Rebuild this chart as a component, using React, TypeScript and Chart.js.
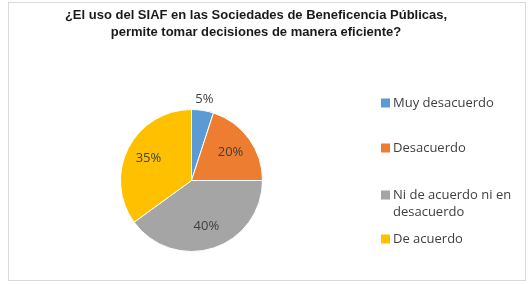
import React, { useEffect, useRef } from "react";
import { Chart, registerables } from "chart.js";

Chart.register(...registerables);

const titleLines = [
  "¿El uso del SIAF en las Sociedades de Beneficencia Públicas,",
  "permite tomar decisiones de manera eficiente?",
];
const categories = [
  "Muy desacuerdo",
  "Desacuerdo",
  "Ni de acuerdo ni en desacuerdo",
  "De acuerdo",
];
const percentages = [5, 20, 40, 35];
const sliceColors = ["#5B9BD5", "#ED7D31", "#A5A5A5", "#FFC000"];

const W = 531;
const H = 284;
const TEXT_FONT = '"Open Sans", "Liberation Sans", sans-serif';
const LEGEND_ROWS_Y = [103, 148, 195, 239];

// Frame, title, slice percentages and the wrapped legend
const decorations = {
  id: "decorations",
  beforeDraw(chart: any) {
    const ctx = chart.ctx;
    ctx.save();
    ctx.fillStyle = "#ffffff";
    ctx.fillRect(0, 0, W, H);
    ctx.strokeStyle = "#d9d9d9";
    ctx.lineWidth = 1;
    ctx.strokeRect(8.5, 2.5, 517, 278);
    ctx.restore();
  },
  afterDraw(chart: any) {
    const ctx = chart.ctx;
    ctx.save();

    // Title
    ctx.fillStyle = "#1a1a1a";
    ctx.font = 'bold 13px "Liberation Sans", Arial, sans-serif';
    ctx.textAlign = "center";
    ctx.textBaseline = "middle";
    titleLines.forEach((line, i) => ctx.fillText(line, 256, 15 + i * 17));

    // Percent labels
    const meta = chart.getDatasetMeta(0);
    ctx.font = `13px ${TEXT_FONT}`;
    ctx.fillStyle = "#404040";
    meta.data.forEach((arc: any, i: number) => {
      const v = percentages[i];
      const mid = (arc.startAngle + arc.endAngle) / 2;
      const r = v < 10 ? arc.outerRadius + 11 : arc.outerRadius * 0.68;
      ctx.fillText(`${v}%`, arc.x + Math.cos(mid) * r, arc.y + Math.sin(mid) * r);
    });

    // Legend
    ctx.textAlign = "left";
    const maxW = 122;
    categories.forEach((label, i) => {
      const words = label.split(" ");
      const lines: string[] = [];
      let cur = "";
      words.forEach((w) => {
        const test = cur ? cur + " " + w : w;
        if (ctx.measureText(test).width > maxW && cur) {
          lines.push(cur);
          cur = w;
        } else cur = test;
      });
      lines.push(cur);
      const y0 = LEGEND_ROWS_Y[i];
      ctx.fillStyle = sliceColors[i];
      ctx.fillRect(381, y0 - 4.5, 9, 9);
      ctx.fillStyle = "#404040";
      lines.forEach((ln, j) => ctx.fillText(ln, 393, y0 + j * 17));
    });
    ctx.restore();
  },
};

export default function App() {
  const ref = useRef<HTMLCanvasElement>(null);
  useEffect(() => {
    if (!ref.current) return;
    const chart = new Chart(ref.current, {
      type: "pie",
      data: {
        labels: categories,
        datasets: [
          {
            data: percentages,
            backgroundColor: sliceColors,
            borderColor: "#ffffff",
            borderWidth: 1,
          },
        ],
      },
      options: {
        responsive: false,
        animation: false,
        layout: { padding: { left: 120, right: 268, top: 109, bottom: 32 } },
        plugins: {
          legend: { display: false },
          title: { display: false },
          tooltip: { enabled: false },
        },
      },
      plugins: [decorations],
    });
    return () => chart.destroy();
  }, []);
  return (
    <div style={{ position: "fixed", left: 0, top: 0, width: W, height: H }}>
      <canvas ref={ref} width={W} height={H} />
    </div>
  );
}
